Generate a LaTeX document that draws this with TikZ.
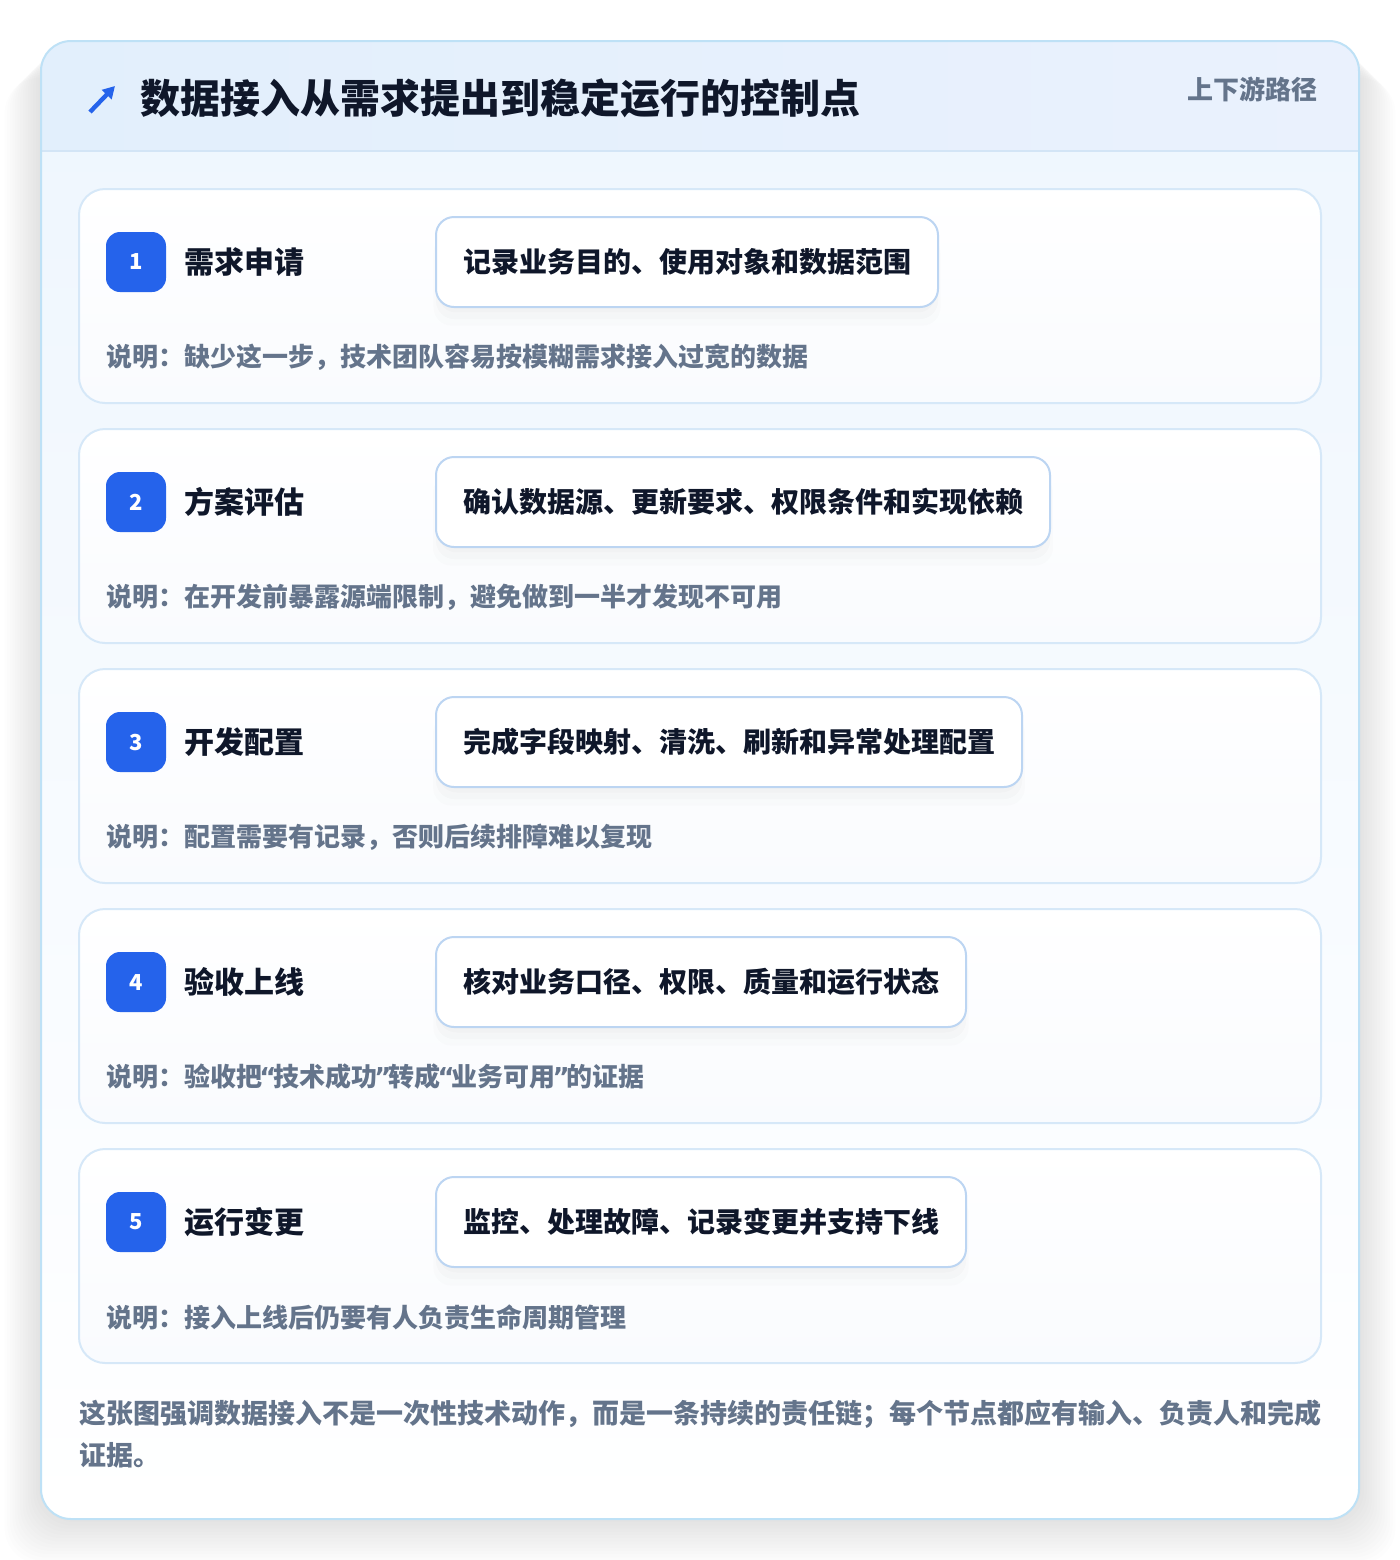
\documentclass[tikz,border=0pt]{standalone}
\usepackage{fontspec}
\setmainfont{Noto Sans CJK SC}
\newfontfamily\symfont{DejaVu Sans}
\usetikzlibrary{positioning,shadows,arrows.meta}
\definecolor{cardline}{HTML}{BEE1F6}
\definecolor{headbg}{HTML}{E2EFFC}
\definecolor{headbgright}{HTML}{EAF1FD}
\definecolor{headrule}{HTML}{D3E5F6}
\definecolor{bodytop}{HTML}{EEF6FE}
\definecolor{stepline}{HTML}{D6E8F8}
\definecolor{stepbottom}{HTML}{F9FBFE}
\definecolor{pillline}{HTML}{BCD5F2}
\definecolor{badgeblue}{HTML}{2563EB}
\definecolor{inkdark}{HTML}{0F172A}
\definecolor{inkgray}{HTML}{64748B}

\tikzset{
  stepcard/.style={draw=stepline, line width=1pt, rounded corners=13pt,
    top color=white, bottom color=stepbottom},
  badge/.style={fill=badgeblue, rounded corners=7pt, minimum size=30pt,
    inner sep=0pt, text=white, font=\bfseries\fontsize{11}{13}\selectfont},
  steptitle/.style={anchor=west, text=inkdark, inner sep=0pt,
    font=\bfseries\fontsize{15}{18}\selectfont},
  pill/.style={anchor=west, draw=pillline, line width=1pt, fill=white,
    rounded corners=9pt, minimum height=45pt, inner xsep=13.5pt,
    text=inkdark, font=\bfseries\fontsize{14}{17}\selectfont,
    general shadow={fill=black, opacity=0.012, shadow yshift=-9pt, shadow scale=1.01},
    general shadow={fill=black, opacity=0.015, shadow yshift=-6pt, shadow scale=1.0},
    general shadow={fill=black, opacity=0.015, shadow yshift=-3pt, shadow scale=0.99}},
  note/.style={anchor=west, inner sep=0pt, text=inkgray,
    font=\bfseries\fontsize{13}{16}\selectfont},
}

% narrow quotes as in the reference
\newcommand{\openq}{\kern-1.5pt{\symfont\bfseries “}\kern-1.5pt}
\newcommand{\closeq}{\kern-1.5pt{\symfont\bfseries ”}\kern-1.5pt}

% one step row: id, top y, number, title, pill text, note
\newcommand{\stepcard}[6]{%
  \draw[stepcard] (79,#2) rectangle (1321,#2+214);
  \node[badge] (badge#1) at (136,#2+73) {#3};
  \node[steptitle, right=9pt of badge#1] (title#1) {#4};
  \node[pill] (pill#1) at (435,#2+73) {#5};
  \node[note] (note#1) at (106,#2+168) {#6};
}

\begin{document}
\begin{tikzpicture}[x=0.5pt, y=-0.5pt]
  \useasboundingbox (0,0) rectangle (1400,1560);
  \fill[white] (0,0) rectangle (1400,1560);
  % soft shadow of the card
  \foreach \i in {1,...,14}
    \fill[black, opacity=0.007, rounded corners=18pt]
      (41-\i*2.6,41+\i*2.6) rectangle (1359+\i*2.6,1519+\i*3.2);
  % card body
  \fill[rounded corners=15pt, top color=bodytop, bottom color=white]
    (41,41) rectangle (1359,1519);
  \begin{scope}
    \clip[rounded corners=15pt] (41,41) rectangle (1359,1519);
    \fill[left color=headbg, right color=headbgright] (41,41) rectangle (1359,151);
    \draw[headrule, line width=1pt] (41,151) -- (1359,151);
  \end{scope}
  \draw[cardline, line width=1pt, rounded corners=15pt] (41,41) rectangle (1359,1519);

  % header
  \coordinate (iconfrom) at (90,112);
  \coordinate (iconto) at (115,86);
  \draw[badgeblue, line width=2.2pt, -{Triangle[length=6pt, width=6.5pt]}] (iconfrom) -- (iconto);
  \node[anchor=west, inner sep=0pt, text=inkdark, font=\bfseries\fontsize{20}{24}\selectfont]
    (heading) at (140,98) {数据接入从需求提出到稳定运行的控制点};
  \node[anchor=east, inner sep=0pt, text=inkgray, font=\bfseries\fontsize{13}{16}\selectfont]
    (tag) at (1318,89) {上下游路径};

  % steps
  \stepcard{1}{189}{1}{需求申请}{记录业务目的、使用对象和数据范围}
    {说明：缺少这一步，技术团队容易按模糊需求接入过宽的数据}
  \stepcard{2}{429}{2}{方案评估}{确认数据源、更新要求、权限条件和实现依赖}
    {说明：在开发前暴露源端限制，避免做到一半才发现不可用}
  \stepcard{3}{669}{3}{开发配置}{完成字段映射、清洗、刷新和异常处理配置}
    {说明：配置需要有记录，否则后续排障难以复现}
  \stepcard{4}{909}{4}{验收上线}{核对业务口径、权限、质量和运行状态}
    {说明：验收把\openq 技术成功\closeq 转成\openq 业务可用\closeq 的证据}
  \stepcard{5}{1149}{5}{运行变更}{监控、处理故障、记录变更并支持下线}
    {说明：接入上线后仍要有人负责生命周期管理}

  % footer
  \node[anchor=north west, inner sep=0pt, align=left, text=inkgray,
    font=\bfseries\fontsize{13.5}{21}\selectfont] (footer) at (79,1400)
    {这张图强调数据接入不是一次性技术动作，而是一条持续的责任链；每个节点都应有输入、负责人和完成\\证据。};
\end{tikzpicture}
\end{document}
